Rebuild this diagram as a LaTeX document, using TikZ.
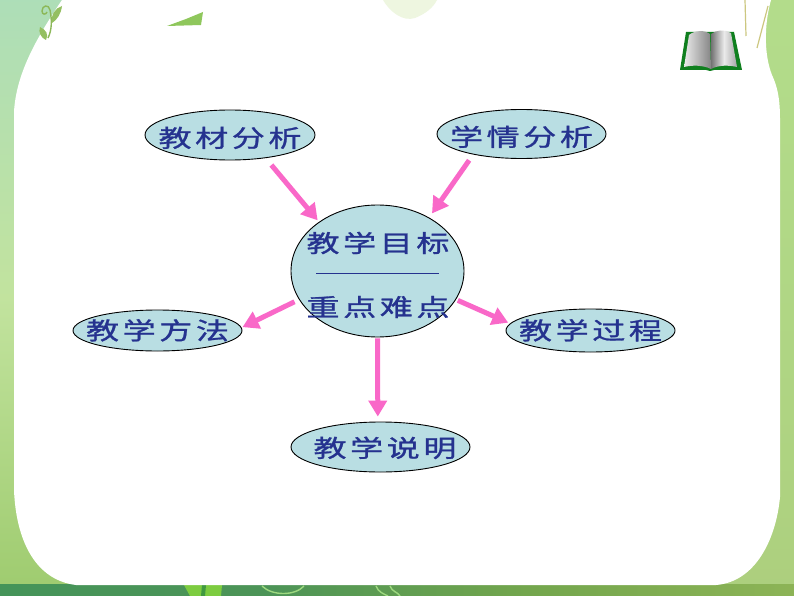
\documentclass[tikz,border=0pt]{standalone}
\usepackage{fontspec}
\usetikzlibrary{shapes.geometric,arrows.meta}
\newfontfamily\cjk[FakeStretch=1.38,FakeBold=1.1]{Noto Sans CJK SC}
\definecolor{bubble}{HTML}{B9DEE3}
\definecolor{ink}{HTML}{25328F}
\definecolor{arrowpink}{HTML}{F968C8}
\definecolor{covergreen}{HTML}{0F7F1E}
\definecolor{brightleaf}{HTML}{7DCC40}
\definecolor{darkleaf}{HTML}{409940}
\definecolor{paletendril}{HTML}{9ED980}
\definecolor{vinegreen}{HTML}{8CB859}
\definecolor{vineleaf}{HTML}{94BF61}
\definecolor{scrapgreen}{HTML}{8FC75C}
\definecolor{paleblob}{HTML}{EEF6E0}
\definecolor{straw}{HTML}{CCC780}
\pgfdeclareverticalshading{leftband}{100bp}{rgb(0bp)=(0.48,0.70,0.36);rgb(18bp)=(0.58,0.77,0.38);rgb(50bp)=(0.76,0.89,0.62);rgb(75bp)=(0.68,0.87,0.72);rgb(100bp)=(0.58,0.84,0.74)}
\pgfdeclareverticalshading{rightband}{100bp}{rgb(0bp)=(0.65,0.75,0.44);rgb(30bp)=(0.68,0.82,0.50);rgb(70bp)=(0.70,0.86,0.54);rgb(100bp)=(0.72,0.88,0.58)}
\pgfdeclarehorizontalshading{bottomband}{100bp}{rgb(0bp)=(0.50,0.71,0.37);rgb(12bp)=(0.42,0.66,0.36);rgb(25bp)=(0.27,0.58,0.35);rgb(42bp)=(0.30,0.58,0.34);rgb(58bp)=(0.45,0.65,0.30);rgb(80bp)=(0.58,0.72,0.35);rgb(100bp)=(0.65,0.75,0.44)}
\tikzset{
  x=1pt,y=-1pt,
  bub/.style={ellipse,draw=black,line width=0.9pt,fill=bubble,inner sep=0pt,font=\cjk\fontsize{24}{24}\selectfont,text=ink},
  lab/.style={inner sep=0pt,font=\cjk\fontsize{24}{24}\selectfont,text=ink},
  link/.style={draw=arrowpink,line width=5pt,-{Triangle[length=16pt,width=18pt]}},
  tendril/.style={draw=#1,line width=1.4pt,fill=none}
}
\newcommand{\gapk}{\kern3.5pt}
\newcommand{\four}[4]{#1\gapk #2\gapk #3\gapk #4}
% text placed in a box of no size, so that the ellipse keeps its own size; args: x offset, y offset, text
\newcommand{\inbub}[3]{\smash{\makebox[0pt]{\hspace{#1}\raisebox{#2}{#3}}}}
\begin{document}
\begin{tikzpicture}
\useasboundingbox (0,0) rectangle (794,596);
% background bands
\shade[shading=leftband] (0,0) rectangle (110,596);
\shade[shading=rightband] (690,0) rectangle (794,596);
\shade[shading=bottomband] (0,584) rectangle (794,596);
% bottom plants
\fill[brightleaf] (184,585) -- (222,585) -- (221,596) -- (190,596) -- cycle;
\fill[darkleaf] (202,585) -- (206,585) -- (205,596) -- (201,596) -- cycle;
\draw[tendril=paletendril] (262,586) .. controls (272,596) and (295,596) .. (304,586);
\draw[tendril=paletendril] (376,586) .. controls (378,592) and (384,594) .. (388,596);
\draw[tendril=paletendril] (390,586) .. controls (392,592) and (398,592) .. (400,596);
% white page
\fill[white] (14,112) .. controls (16,75) and (35,40) .. (62,0) -- (771,0)
  .. controls (764,25) and (764,55) .. (772,75) .. controls (778,88) and (780,100) .. (780,120)
  -- (780,497) .. controls (776,540) and (755,582) .. (716,585)
  -- (76,585) .. controls (35,580) and (16,540) .. (14,490) -- cycle;
% top-left vine
\draw[tendril=vinegreen] (48,38) .. controls (52,30) and (52,20) .. (50,10) .. controls (49,4) and (42,5) .. (42,11) .. controls (42,15) and (46,15) .. (47,12);
\fill[vineleaf] (40,27) .. controls (46,30) and (49,34) .. (46,40) .. controls (41,38) and (38,32) .. (40,27) -- cycle;
\fill[vineleaf] (62,6) .. controls (61,14) and (57,20) .. (52,23) .. controls (50,16) and (55,8) .. (62,6) -- cycle;
% top scraps
\fill[scrapgreen] (167,26) -- (186,19) -- (203,12) -- (201,25) -- cycle;
\fill[paleblob] (383,0) .. controls (390,12) and (403,22) .. (415,18) .. controls (425,14) and (433,8) .. (437,0) -- cycle;
\draw[straw,line width=1.2pt] (745,0) -- (746,36);
\draw[straw,line width=1.2pt] (768,6) -- (757,48);
% book
\fill[covergreen] (680,70) -- (686,32) -- (734,32) -- (742,70) -- (714,70) -- (710,71) -- (706,70) -- cycle;
\shade[left color=white!92!black,right color=black!48] (684,67) -- (689,35) .. controls (695,30) and (705,30) .. (710,34) -- (711,69) .. controls (703,65) and (692,65) .. (684,67) -- cycle;
\shade[left color=black!55,right color=black!35,middle color=white!92!black] (711,69) .. controls (718,65) and (729,65) .. (737,67) -- (731,33) .. controls (725,29) and (716,30) .. (711,34) -- cycle;
% nodes
\node[bub,minimum width=170pt,minimum height=50pt] (a) at (230,135) {\inbub{0pt}{-12pt}{\four{教}{材}{分}{析}}};
\node[bub,minimum width=169pt,minimum height=49pt] (b) at (521.5,134) {\inbub{0pt}{-12pt}{\four{学}{情}{分}{析}}};
\node[bub,minimum width=173pt,minimum height=132pt] (c) at (377.5,271) {};
\node[bub,minimum width=169pt,minimum height=41pt] (d) at (157.5,330.5) {\inbub{0pt}{-9pt}{\four{教}{学}{方}{法}}};
\node[bub,minimum width=169pt,minimum height=43pt] (e) at (590.5,330.5) {\inbub{0pt}{-9pt}{\four{教}{学}{过}{程}}};
\node[bub,minimum width=179pt,minimum height=50pt] (f) at (380.5,447) {\inbub{9pt}{-10pt}{\four{教}{学}{说}{明}}};
\node[lab] (c1) at (378,243) {\four{教}{学}{目}{标}};
\node[lab] (c2) at (378,307) {\four{重}{点}{难}{点}};
\coordinate (ruleL) at (316,273);
\coordinate (ruleR) at (439,273);
\draw[ink,line width=0.9pt] (ruleL) -- (ruleR);
% connectors
\draw[link,shorten <=9pt,shorten >=2pt] (a.-33.7) -- (c.140.4);
\draw[link,shorten <=7pt,shorten >=5pt] (b.203.3) -- (c.46.8);
\draw[link,shorten <=5pt,shorten >=1pt] (c.200.6) -- (d.2);
\draw[link,shorten <=2pt,shorten >=2pt] (c.-20) -- (e.175.4);
\draw[link,shorten <=1pt,shorten >=5pt] (c.-90) -- (f.96.8);
\end{tikzpicture}
\end{document}
